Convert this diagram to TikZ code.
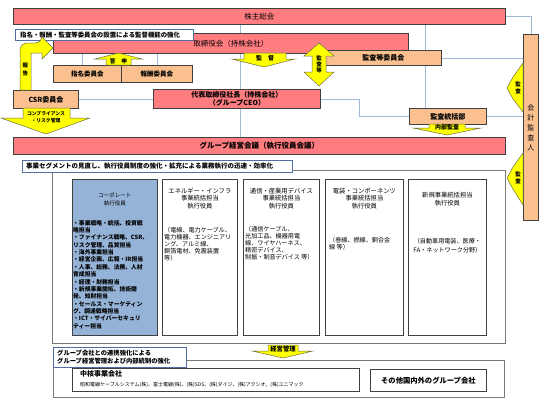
\documentclass[tikz,border=0pt]{standalone}
\usepackage{fontspec}
\setmainfont{Noto Sans CJK JP}
\usetikzlibrary{backgrounds}
\definecolor{barred}{RGB}{255,124,128}
\definecolor{boxor}{RGB}{250,192,144}
\definecolor{boxbl}{RGB}{149,179,215}
\definecolor{yel}{RGB}{255,255,0}
\definecolor{yedge}{RGB}{110,110,70}
\definecolor{edge}{RGB}{64,64,64}
\definecolor{linec}{RGB}{160,185,215}
\definecolor{tedge}{RGB}{80,110,160}
\definecolor{oedge}{RGB}{120,120,120}
\newcommand\myfs[2]{\fontsize{#1}{#2}\selectfont}
\begin{document}
\begin{tikzpicture}[x=1pt,y=-1pt,
  bar/.style={draw=edge,fill=barred,line width=0.9pt,inner sep=0pt,anchor=north west},
  obox/.style={draw=edge,fill=boxor,line width=0.9pt,inner sep=0pt,anchor=north west},
  bbox/.style={draw=edge,fill=boxbl,line width=0.9pt,inner sep=0pt,anchor=north west},
  wbox/.style={draw=edge,fill=white,line width=0.8pt,inner sep=0pt,anchor=north west},
  tbox/.style={draw=tedge,fill=white,line width=0.8pt,inner sep=0pt,anchor=north west},
  obig/.style={draw=oedge,fill=white,line width=0.9pt,inner sep=0pt,anchor=north west},
  yarrow/.style={draw=yedge,fill=yel,line width=0.5pt,line join=miter},
  conn/.style={draw=linec,line width=0.9pt},
  txt/.style={inner sep=0pt},
]
\useasboundingbox (0,0) rectangle (539,400);

% top bars and boxes
\node[bar,minimum width=492pt,minimum height=16pt,font=\myfs{7.5}{9}] (kabu) at (13,8) {株主総会};
\node[bar,minimum width=355pt,minimum height=20pt,font=\myfs{7.5}{9}] (tori) at (53,33) {取締役会（持株会社）};
\node[tbox,minimum width=178pt,minimum height=11pt] (t1) at (15,29) {};
\node[txt,anchor=west,font=\myfs{6.4}{7}\bfseries] (t1x) at ([xshift=5pt]t1.west) {指名・報酬・監査等委員会の設置による監督機能の強化};
\node[obox,minimum width=68pt,minimum height=17pt,font=\myfs{6.5}{8}\bfseries] (shimei) at (53,65) {指名委員会};
\node[obox,minimum width=71pt,minimum height=17pt,font=\myfs{6.5}{8}\bfseries] (hoshu) at (121,65) {報酬委員会};
\node[obox,minimum width=65pt,minimum height=18pt,font=\myfs{7}{8}\bfseries] (csr) at (13,90) {CSR委員会};
\node[bar,minimum width=167pt,minimum height=19pt,align=center,font=\myfs{7}{8.5}\bfseries] (ceo) at (153,89) {代表取締役社長（持株会社）\\（グループCEO）};
\node[obox,minimum width=116pt,minimum height=15pt,font=\myfs{7}{8}\bfseries] (kansa) at (325,50) {監査等委員会};
\node[obox,minimum width=77pt,minimum height=16pt,font=\myfs{7}{8}\bfseries] (tokatsu) at (409,108) {監査統括部};
\node[obox,minimum width=15pt,minimum height=186pt] (kaikei) at (523,34) {};
\node[txt,font=\myfs{7}{10},align=center] (kaikeix) at (kaikei.center) {会\\計\\監\\査\\人};
\node[bar,minimum width=492pt,minimum height=17pt,font=\myfs{7.5}{9}\bfseries] (gm) at (13,137) {グループ経営会議（執行役員会議）};

% middle block
\node[obig,minimum width=453pt,minimum height=173pt] (mid) at (52,170) {};
\node[tbox,minimum width=270pt,minimum height=12pt] (t2) at (22,160) {};
\node[txt,anchor=west,font=\myfs{6.5}{7}\bfseries] (t2x) at ([xshift=4pt]t2.west) {事業セグメントの見直し、執行役員制度の強化・拡充による業務執行の迅速・効率化};

\node[bbox,minimum width=85pt,minimum height=156pt] (c1) at (72,179) {};
\node[wbox,minimum width=75pt,minimum height=156pt] (c2) at (162,179) {};
\node[wbox,minimum width=76pt,minimum height=156pt] (c3) at (243,179) {};
\node[wbox,minimum width=78pt,minimum height=156pt] (c4) at (325,179) {};
\node[wbox,minimum width=78pt,minimum height=156pt] (c5) at (408,179) {};

\path (c1.north) ++(0,14) node[txt,anchor=north,align=center,font=\myfs{5.5}{7.5}] (c1t) {コーポレート\\執行役員};
\node[txt,anchor=north west,align=left,font=\myfs{5.8}{7.36}\bfseries] (c1b) at (73,220) {・事業戦略・統括、投資戦\\略担当\\・ファイナンス戦略、CSR、\\リスク管理、品質担当\\・海外事業担当\\・経営企画、広報・IR担当\\・人事、総務、法務、人材\\育成担当\\・経理・財務担当\\・新規事業開拓、技術開\\発、知財担当\\・セールス・マーケティン\\グ、調達戦略担当\\・ICT・サイバーセキュリ\\ティー担当};

\path (c2.north) ++(0,9) node[txt,anchor=north,align=center,font=\myfs{6.3}{7.3}] (c2t) {エネルギー・インフラ\\事業統括担当\\執行役員};
\path (c3.north) ++(0,9) node[txt,anchor=north,align=center,font=\myfs{6.3}{7.3}] (c3t) {通信・産業用デバイス\\事業統括担当\\執行役員};
\path (c4.north) ++(0,9) node[txt,anchor=north,align=center,font=\myfs{6.3}{7.3}] (c4t) {電装・コンポーネンツ\\事業統括担当\\執行役員};
\path (c5.north) ++(0,13) node[txt,anchor=north,align=center,font=\myfs{6.3}{8}] (c5t) {新規事業統括担当\\執行役員};

\node[txt,anchor=north west,align=left,font=\myfs{6.1}{6.9}] (c2p) at (164,227) {（電線、電力ケーブル、\\電力機器、エンジニアリ\\ング、アルミ線、\\銅箔電材、免震装置\\等）};
\node[txt,anchor=north west,align=left,font=\myfs{6.1}{6.9}] (c3p) at (245,226) {（通信ケーブル、\\光加工品、機器用電\\線、ワイヤハーネス、\\精密デバイス、\\制振・制音デバイス 等）};
\node[txt,anchor=north west,align=left,font=\myfs{6.1}{7.5}] (c4p) at (329,237) {（巻線、撚線、銅合金\\線 等）};
\path (c5.north) ++(0,59) node[txt,anchor=north,align=center,font=\myfs{6.1}{9}] (c5p) {（自動車用電装、医療・\\FA・ネットワーク分野）};

% bottom block
\node[obig,minimum width=451pt,minimum height=37pt] (bot) at (53,360) {};
\node[tbox,minimum width=133pt,minimum height=20pt] (t3) at (53,347) {};
\node[txt,anchor=west,align=left,font=\myfs{6.3}{8}\bfseries] (t3x) at ([xshift=4pt]t3.west) {グループ会社との連携強化による\\グループ経営管理および内部統制の強化};
\node[wbox,minimum width=287pt,minimum height=23pt] (core) at (72,368) {};
\node[txt,anchor=west,font=\myfs{7}{8}\bfseries] (corex) at (80,374) {中核事業会社};
\node[txt,anchor=west,font=\myfs{5}{6}] (corel) at (80,385) {昭和電線ケーブルシステム(株)、富士電線(株)、(株)SDS、(株)ダイジ、(株)アクシオ、(株)ユニマック};
\node[wbox,minimum width=116pt,minimum height=22pt,font=\myfs{7.3}{8}\bfseries] (other) at (370,369) {その他国内外のグループ会社};

% connectors
\begin{scope}[on background layer]
\coordinate (xa) at (240,0);
\coordinate (xb) at (425,0);
\coordinate (xc) at (359,0);
\coordinate (xd) at (82,0);
\coordinate (xe) at (157,0);
\draw[conn] (kabu.south -| xa) -- (gm.north -| xa);
\draw[conn] (kabu.south -| xb) -- (tokatsu.north -| xb);
\draw[conn] (kabu.east) -| (kaikei.north);
\draw[conn] (kansa.east) -- (kansa.east -| kaikei.west);
\draw[conn] (tokatsu.east) -- (tokatsu.east -| kaikei.west);
\draw[conn] (ceo.east) -- (ceo.east -| xc) |- (tokatsu.west);
\draw[conn] (csr.east) -- (csr.east -| ceo.west);
\draw[conn] (tori.south -| xd) -- (shimei.north -| xd);
\draw[conn] (tori.south -| xe) -- (hoshu.north -| xe);
\end{scope}

% yellow block arrows
\path[yarrow] (106,65) -- (106,59) -- (95,59) -- (118.5,53) -- (142,59) -- (131,59) -- (131,65) -- cycle;
\node[txt,font=\myfs{5.8}{6}\bfseries] (toshin) at (118.5,61) {答　申};

\path[yarrow] (244,53) -- (286,53) -- (286,59) -- (295,59) -- (264,67) -- (232,59) -- (244,59) -- cycle;
\node[txt,font=\myfs{6}{6}\bfseries] (kantoku) at (265,58.5) {監　督};

\path[yarrow] (319,43) -- (334,56) -- (326,56) -- (326,72) -- (334,72) -- (319,86) -- (304,72) -- (312,72) -- (312,56) -- (304,56) -- cycle;
\node[txt,font=\myfs{5.5}{6}\bfseries,align=center] (kansatou) at (319,64.5) {監\\査\\等};

\path[yarrow] (20,90) {[rounded corners=7pt] -- (20,43) -- (42,43)} -- (42,37) -- (53,48) -- (42,59) -- (42,53) -- (31,53) -- (31,90) -- cycle;
\node[txt,font=\myfs{5.5}{8}\bfseries,align=center] (hokoku) at (25.5,69) {報\\告};

\path[yarrow] (23,108) -- (70,108) -- (70,118) -- (90,118) -- (46,134) -- (1,118) -- (23,118) -- cycle;
\node[txt,font=\myfs{4.8}{7}\bfseries,align=center] (compl) at (46,117) {コンプライアンス\\・リスク管理};

\path[yarrow] (429,124) -- (465,124) -- (465,128) -- (481,128) -- (447,135) -- (413,128) -- (429,128) -- cycle;
\node[txt,font=\myfs{6}{6}\bfseries] (naibu) at (447,127.5) {内部監査};

\path[yarrow] (268,345) -- (298,345) -- (298,351) -- (313,351) -- (283,358) -- (252,351) -- (268,351) -- cycle;
\node[txt,font=\myfs{6.3}{6}\bfseries] (keiei) at (283,349) {経営管理};

\path[yarrow] (523,63) -- (513,77) -- (507,88) -- (513,99) -- (523,112) -- cycle;
\node[txt,font=\myfs{5.5}{6.5}\bfseries,align=center] (kansa1) at (518,88) {監\\査};
\path[yarrow] (523,153) -- (513,167) -- (507,178) -- (513,189) -- (523,205) -- cycle;
\node[txt,font=\myfs{5.5}{6.5}\bfseries,align=center] (kansa2) at (518,178) {監\\査};
\end{tikzpicture}
\end{document}
